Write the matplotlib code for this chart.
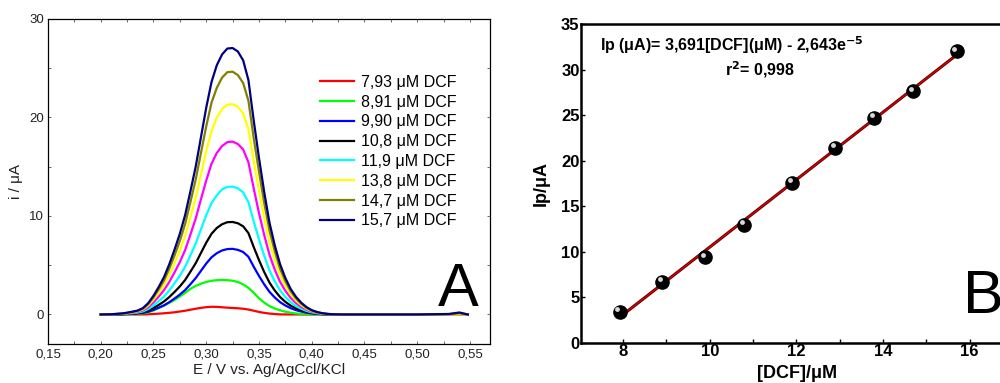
import matplotlib
matplotlib.use('Agg')
import matplotlib.pyplot as plt
import matplotlib.transforms as mtransforms
import numpy as np

plt.rcParams['font.family'] = ['Liberation Sans', 'DejaVu Sans']

# potential grid (V) shared by all voltammograms
E = [0.200, 0.210, 0.220, 0.225, 0.230, 0.235, 0.240, 0.245, 0.250, 0.255,
     0.260, 0.265, 0.270, 0.275, 0.280, 0.285, 0.290, 0.295, 0.300, 0.305,
     0.310, 0.315, 0.320, 0.325, 0.330, 0.335, 0.340, 0.345, 0.350, 0.355,
     0.360, 0.365, 0.370, 0.375, 0.380, 0.385, 0.390, 0.395, 0.400, 0.405,
     0.410, 0.415, 0.420, 0.430, 0.450, 0.500, 0.530, 0.540, 0.548]

# currents (uA)
i_793 = [0, 0, 0, 0, 0, 0, 0, 0.02, 0.05, 0.08,
         0.12, 0.17, 0.22, 0.30, 0.38, 0.48, 0.58, 0.67, 0.74, 0.78,
         0.77, 0.73, 0.69, 0.66, 0.63, 0.58, 0.50, 0.38, 0.26, 0.16,
         0.09, 0.04, 0.01, 0, 0, 0, 0, 0, 0, 0,
         0, 0, 0, 0, 0, 0, 0, 0, 0]
i_891 = [0, 0, 0.01, 0.02, 0.04, 0.07, 0.12, 0.22, 0.40, 0.65,
         0.90, 1.18, 1.48, 1.82, 2.20, 2.60, 2.90, 3.12, 3.30, 3.42,
         3.48, 3.50, 3.48, 3.42, 3.30, 3.05, 2.70, 2.20, 1.65, 1.20,
         0.85, 0.60, 0.42, 0.28, 0.18, 0.10, 0.05, 0.03, 0.01, 0,
         0, 0, 0, 0, 0, 0, 0, 0, 0]
i_990 = [0, 0, 0.02, 0.04, 0.07, 0.10, 0.16, 0.28, 0.47, 0.69,
         0.93, 1.25, 1.62, 2.02, 2.48, 3.07, 3.69, 4.43, 5.17, 5.80,
         6.22, 6.50, 6.64, 6.66, 6.56, 6.34, 5.86, 4.85, 3.91, 3.05,
         2.29, 1.72, 1.25, 0.91, 0.64, 0.44, 0.30, 0.18, 0.11, 0.06,
         0.03, 0.01, 0, 0, 0, 0, 0, 0, 0]
i_108 = [0, 0.01, 0.03, 0.06, 0.10, 0.14, 0.23, 0.40, 0.66, 0.97,
         1.32, 1.77, 2.29, 2.85, 3.50, 4.34, 5.20, 6.25, 7.29, 8.19,
         8.78, 9.16, 9.37, 9.39, 9.26, 8.95, 8.26, 6.85, 5.52, 4.30,
         3.23, 2.43, 1.77, 1.28, 0.90, 0.62, 0.42, 0.26, 0.15, 0.09,
         0.05, 0.02, 0, 0, 0, 0, 0, 0, 0]
i_119 = [0, 0.01, 0.05, 0.09, 0.13, 0.19, 0.31, 0.55, 0.91, 1.34,
         1.82, 2.45, 3.17, 3.94, 4.85, 6.00, 7.20, 8.64, 10.1, 11.3,
         12.1, 12.7, 12.96, 12.98, 12.8, 12.4, 11.4, 9.45, 7.63, 5.95,
         4.46, 3.36, 2.45, 1.78, 1.25, 0.86, 0.58, 0.36, 0.21, 0.12,
         0.06, 0.03, 0.01, 0, 0, 0, 0, 0, 0]
i_129 = [0, 0.01, 0.06, 0.12, 0.18, 0.26, 0.42, 0.75, 1.23, 1.82,
         2.47, 3.31, 4.28, 5.32, 6.55, 8.11, 9.74, 11.7, 13.6, 15.3,
         16.4, 17.1, 17.5, 17.55, 17.3, 16.75, 15.45, 12.8, 10.3, 8.05,
         6.04, 4.54, 3.31, 2.40, 1.69, 1.17, 0.78, 0.49, 0.29, 0.16,
         0.08, 0.04, 0.01, 0, 0, 0, 0, 0, 0]
i_138 = [0, 0.02, 0.08, 0.14, 0.22, 0.32, 0.51, 0.91, 1.50, 2.21,
         3.00, 4.03, 5.21, 6.48, 7.98, 9.88, 11.85, 14.2, 16.6, 18.6,
         20.0, 20.85, 21.3, 21.35, 21.1, 20.4, 18.8, 15.6, 12.6, 9.8,
         7.35, 5.53, 4.03, 2.92, 2.05, 1.42, 0.95, 0.59, 0.35, 0.20,
         0.10, 0.05, 0.02, 0, 0, 0, 0, 0, 0]
i_147 = [0, 0.02, 0.09, 0.16, 0.26, 0.36, 0.59, 1.05, 1.73, 2.55,
         3.46, 4.65, 6.00, 7.47, 9.20, 11.4, 13.7, 16.4, 19.1, 21.5,
         23.0, 24.05, 24.6, 24.65, 24.3, 23.5, 21.7, 17.9, 14.5, 11.3,
         8.50, 6.40, 4.65, 3.37, 2.37, 1.64, 1.09, 0.68, 0.40, 0.23,
         0.12, 0.05, 0.02, 0, 0, 0, 0.03, 0.12, 0]
i_157 = [0, 0.02, 0.10, 0.18, 0.28, 0.40, 0.65, 1.15, 1.90, 2.80,
         3.80, 5.10, 6.60, 8.20, 10.1, 12.5, 15.0, 18.0, 21.0, 23.6,
         25.3, 26.4, 27.0, 27.05, 26.7, 25.8, 23.8, 19.7, 15.9, 12.4,
         9.30, 7.00, 5.10, 3.70, 2.60, 1.80, 1.20, 0.75, 0.44, 0.25,
         0.13, 0.06, 0.02, 0, 0, 0, 0.05, 0.20, 0]

curves = [i_793, i_891, i_990, i_108, i_119, i_129, i_138, i_147, i_157]
labels = ['7,93 μM DCF', '8,91 μM DCF', '9,90 μM DCF', '10,8 μM DCF',
          '11,9 μM DCF', '_nolegend_', '13,8 μM DCF', '14,7 μM DCF',
          '15,7 μM DCF']
colors = ['#ff0000', '#00ff00', '#0000ff', '#000000', '#00ffff',
          '#ff00ff', '#ffff00', '#808000', '#000080']

# calibration plot (panel B)
conc = [7.93, 8.91, 9.90, 10.8, 11.9, 12.9, 13.8, 14.7, 15.7]
ip = [3.43, 6.73, 9.40, 13.0, 17.6, 21.4, 24.7, 27.6, 32.0]

fig = plt.figure(figsize=(10, 3.83), dpi=100)

# ---- panel A ----
ax1 = fig.add_axes([0.048, 0.1018, 0.442, 0.8486])
for y, lab, c in zip(curves, labels, colors):
    ax1.plot(E, y, color=c, lw=1.6, label=lab)
ax1.set_xlim(0.15, 0.569)
ax1.set_ylim(-3, 30)
ax1.set_xticks([0.15, 0.20, 0.25, 0.30, 0.35, 0.40, 0.45, 0.50, 0.55])
ax1.set_xticklabels(['0,15', '0,20', '0,25', '0,30', '0,35', '0,40',
                     '0,45', '0,50', '0,55'])
ax1.set_yticks([0, 10, 20, 30])
ax1.set_xticks(np.arange(0.175, 0.57, 0.05), minor=True)
ax1.set_yticks([5, 15, 25], minor=True)
ax1.tick_params(which='both', direction='in', top=True, right=True,
                length=2.5, width=0.6, color='#555555', labelsize=9.5,
                labelcolor='#222222', pad=3)
for s in ax1.spines.values():
    s.set_linewidth(0.9)
ax1.set_xlabel('E / V vs. Ag/AgCcl/KCl', fontsize=11, color='#222222',
               labelpad=2)
ax1.set_ylabel('i / μA', fontsize=11, color='#222222', labelpad=4)
ax1.legend(loc='upper left', bbox_to_anchor=(0.616, 0.828), frameon=False,
           fontsize=11.5, handlelength=2.1, handletextpad=0.45,
           labelspacing=0.3, borderpad=0, borderaxespad=0)
ax1.text(0.975, 0.118, 'A', transform=ax1.transAxes, fontsize=44,
         ha='right', va='baseline')

# ---- panel B ----
ax2 = fig.add_axes([0.581, 0.1044, 0.432, 0.833])
coef = np.polyfit(conc, ip, 1)
xf = np.array([conc[0], conc[-1]])
ax2.plot(xf, np.polyval(coef, xf), color='#5a0000', lw=2.2, zorder=2)
ax2.plot(xf, np.polyval(coef, xf), color='#e00000', lw=0.9, zorder=3)
ax2.plot(conc, ip, 'o', color='black', ms=9.5, zorder=4)
hl = mtransforms.offset_copy(ax2.transData, fig=fig, x=-1.8, y=1.8,
                             units='points')
ax2.plot(conc, ip, 'o', color='#d8d8d8', ms=3.5, mec='none',
         transform=hl, zorder=5)
ax2.set_xlim(7.03, 17.0)
ax2.set_ylim(0, 35)
ax2.set_xticks([8, 10, 12, 14, 16])
ax2.set_xticks([9, 11, 13, 15], minor=True)
ax2.set_yticks(np.arange(0, 36, 5))
ax2.tick_params(which='both', direction='in', length=3, width=1,
                labelsize=12, pad=1)
for lab in ax2.get_xticklabels() + ax2.get_yticklabels():
    lab.set_fontweight('bold')
for s in ax2.spines.values():
    s.set_linewidth(1.8)
ax2.set_xlabel('[DCF]/μM', fontsize=13, fontweight='bold', labelpad=4)
ax2.set_ylabel('Ip/μA', fontsize=13, fontweight='bold', labelpad=8)
ax2.text(0.043, 0.915, 'Ip (μA)= 3,691[DCF](μM) - 2,643e$^{\\mathbf{-5}}$',
         transform=ax2.transAxes, fontsize=11.5, fontweight='bold',
         ha='left', va='baseline')
ax2.text(0.415, 0.84, 'r$^{\\mathbf{2}}$= 0,998', transform=ax2.transAxes,
         fontsize=11.5, fontweight='bold', ha='center', va='baseline')
fig.text(0.963, 0.182, 'B', fontsize=44, ha='left', va='baseline')

fig.savefig('out.png', dpi=100)
